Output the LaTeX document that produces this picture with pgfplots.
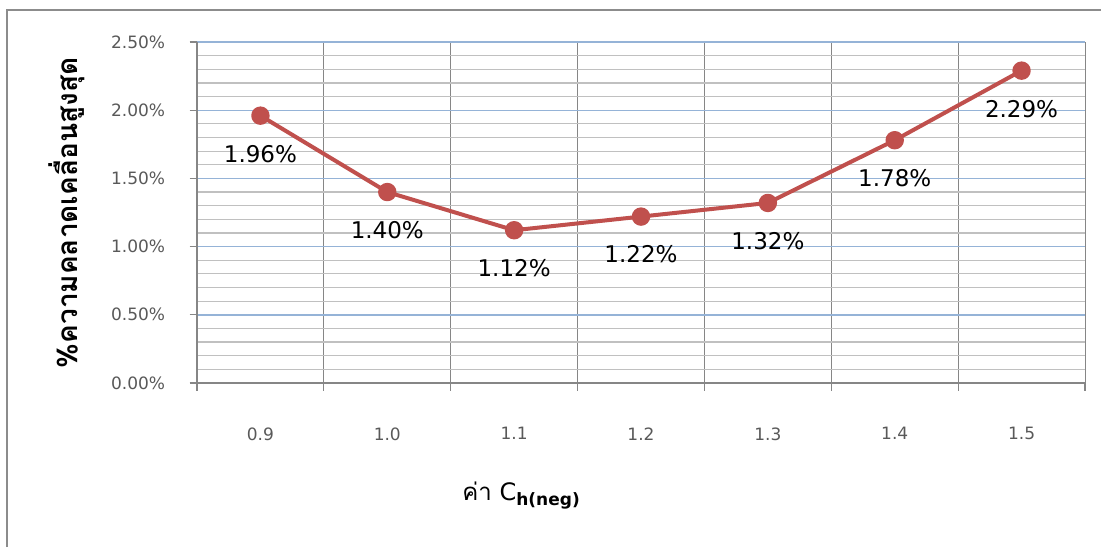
\documentclass[border=0pt]{standalone}
\usepackage{fontspec}
\setmainfont{DejaVu Sans}
\newfontfamily\thaifont[Script=Thai]{Loma}
\usepackage{pgfplots}
\pgfplotsset{compat=1.18}

\definecolor{serieswine}{RGB}{192,80,77}
\definecolor{majorblue}{RGB}{149,179,215}
\definecolor{minorgray}{RGB}{192,192,192}
\definecolor{axisgray}{RGB}{134,134,134}
\definecolor{ticktext}{RGB}{89,89,89}
\definecolor{framegray}{RGB}{140,140,140}

\begin{document}
\begin{tikzpicture}
\useasboundingbox (0,0) rectangle (550.5pt,273.5pt);
\fill[white] (0,0) rectangle (550.5pt,273.5pt);
% chart area frame (left and top edges)
\draw[framegray, line width=1.2pt] (3.5pt,0) -- (3.5pt,268.5pt) -- (550.5pt,268.5pt);

\begin{axis}[
  at={(98.5pt,82pt)}, anchor=south west,
  scale only axis, width=444pt, height=170.5pt,
  xmin=-0.5, xmax=6.5, ymin=0, ymax=2.5,
  axis x line*=bottom, axis y line*=left,
  axis line style={draw=axisgray, line width=0.6pt, -},
  tick align=outside,
  major tick length=3.75pt, minor tick length=0pt,
  tick style={axisgray, line width=0.6pt},
  % category boundaries carry the vertical grid and tick marks
  xtick={-0.5,0.5,...,6.5}, xticklabels={},
  xmajorgrids, major x grid style={axisgray, line width=0.5pt},
  % category names sit at the centres
  extra x ticks={0,1,2,3,4,5,6},
  extra x tick labels={0.9,1.0,1.1,1.2,1.3,1.4,1.5},
  extra x tick style={major tick length=0pt, grid=none,
    xticklabel style={anchor=north, inner sep=0pt, yshift=-22pt}},
  ytick={0,0.5,...,2.5},
  minor y tick num=4,
  ymajorgrids, yminorgrids,
  major y grid style={majorblue, line width=0.7pt},
  minor y grid style={minorgray, line width=0.6pt},
  yticklabel={\pgfmathprintnumber[fixed,fixed zerofill,precision=2]{\tick}\%},
  yticklabel style={anchor=east, inner sep=0pt, xshift=-12pt},
  /pgf/number format/assume math mode=true,
  tick label style={font=\fontsize{8.5}{10}\selectfont, text=ticktext},
  clip=false,
]
\addplot[serieswine, line width=2pt, line join=round, line cap=round,
  mark=*, mark size=3.6pt, mark options={fill=serieswine, draw=serieswine},
  point meta=y,
  nodes near coords={\pgfmathprintnumber[fixed,fixed zerofill,precision=2]{\pgfplotspointmeta}\%},
  every node near coord/.append style={anchor=center, yshift=-19pt,
    text=black, font=\fontsize{11.5}{13}\selectfont}]
  coordinates {(0,1.96) (1,1.40) (2,1.12) (3,1.22) (4,1.32) (5,1.78) (6,2.29)};
\end{axis}

% axis titles
\node[rotate=90, anchor=center, font=\fontsize{14}{16}\selectfont\bfseries] at (33.5pt,167pt)
  {\thaifont\%ความคลาดเคลื่อนสูงสุด};
\node[anchor=base west, font=\fontsize{12}{14}\selectfont, inner sep=0pt] at (231pt,23.5pt)
  {{\thaifont ค่า} C\raisebox{-2.5pt}{\fontsize{8.5}{10}\selectfont\bfseries h(neg)}};
\end{tikzpicture}
\end{document}
